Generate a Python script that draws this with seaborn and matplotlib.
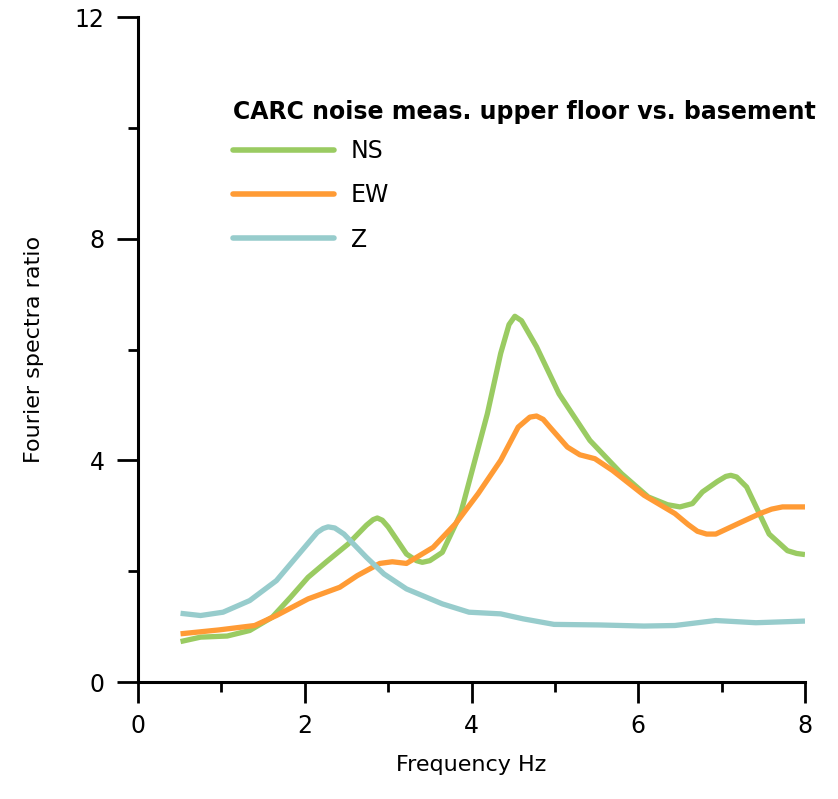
import matplotlib
matplotlib.use("Agg")
import matplotlib.pyplot as plt
from matplotlib.ticker import MultipleLocator
import seaborn as sns
import pandas as pd

# Values
ns_freq = [0.51, 0.75, 1.07, 1.34, 1.61, 1.83, 2.04, 2.26, 2.52, 2.74, 2.82, 2.87, 2.93, 3.0,
           3.22, 3.34, 3.41, 3.5, 3.65, 3.87, 4.03, 4.19, 4.35, 4.45, 4.52, 4.6, 4.78, 5.05,
           5.42, 5.8, 6.12, 6.35, 6.5, 6.65, 6.77, 6.95, 7.05, 7.11, 7.18, 7.3, 7.57, 7.79,
           7.9, 8.0]
ns_ratio = [0.73, 0.81, 0.83, 0.93, 1.17, 1.53, 1.89, 2.17, 2.49, 2.83, 2.93, 2.96, 2.92, 2.8,
            2.31, 2.19, 2.16, 2.19, 2.34, 3.04, 3.94, 4.84, 5.93, 6.45, 6.6, 6.52, 6.05, 5.2,
            4.36, 3.76, 3.34, 3.2, 3.16, 3.22, 3.43, 3.62, 3.71, 3.73, 3.7, 3.52, 2.67, 2.37,
            2.32, 2.3]

ew_freq = [0.51, 0.97, 1.4, 1.66, 2.04, 2.42, 2.63, 2.9, 3.05, 3.22, 3.54, 3.81, 4.08, 4.35,
           4.56, 4.7, 4.78, 4.86, 4.94, 5.15, 5.3, 5.48, 5.69, 6.07, 6.44, 6.6, 6.71, 6.82,
           6.93, 7.2, 7.46, 7.6, 7.73, 8.0]
ew_ratio = [0.87, 0.94, 1.02, 1.2, 1.5, 1.71, 1.92, 2.14, 2.17, 2.14, 2.43, 2.86, 3.4, 4.0,
            4.6, 4.78, 4.8, 4.74, 4.6, 4.24, 4.1, 4.03, 3.82, 3.37, 3.04, 2.84, 2.72, 2.67,
            2.67, 2.86, 3.04, 3.12, 3.16, 3.16]

z_freq = [0.51, 0.75, 1.02, 1.34, 1.66, 1.93, 2.15, 2.22, 2.28, 2.36, 2.47, 2.74, 2.95, 3.22,
          3.65, 3.97, 4.35, 4.62, 4.99, 5.53, 6.07, 6.44, 6.93, 7.41, 8.0]
z_ratio = [1.24, 1.2, 1.26, 1.47, 1.83, 2.31, 2.7, 2.77, 2.8, 2.78, 2.67, 2.25, 1.95, 1.68,
           1.41, 1.26, 1.23, 1.14, 1.04, 1.03, 1.01, 1.02, 1.11, 1.07, 1.1]

components = ["NS", "EW", "Z"]
colors = ["#9ACB62", "#FF9B35", "#97CCCC"]

df = pd.concat([
    pd.DataFrame({"freq": ns_freq, "ratio": ns_ratio, "comp": "NS"}),
    pd.DataFrame({"freq": ew_freq, "ratio": ew_ratio, "comp": "EW"}),
    pd.DataFrame({"freq": z_freq, "ratio": z_ratio, "comp": "Z"}),
])

sns.set_style("ticks", {"axes.edgecolor": "black", "xtick.color": "black",
                        "ytick.color": "black", "text.color": "black",
                        "axes.labelcolor": "black"})
plt.rcParams["font.family"] = ["DejaVu Sans"]

fig = plt.figure(figsize=(8.38, 7.99), dpi=100)
ax = fig.add_axes([0.1647, 0.1464, 0.7959, 0.8323])

sns.lineplot(data=df, x="freq", y="ratio", hue="comp", hue_order=components,
             palette=dict(zip(components, colors)), linewidth=3.8, sort=False,
             estimator=None, ax=ax, legend=False)
for line in ax.get_lines():
    line.set_solid_joinstyle("round")
    line.set_solid_capstyle("butt")

ax.set_xlim(0, 8)
ax.set_ylim(0, 12)
ax.xaxis.set_major_locator(MultipleLocator(2))
ax.xaxis.set_minor_locator(MultipleLocator(1))
ax.yaxis.set_major_locator(MultipleLocator(4))
ax.yaxis.set_minor_locator(MultipleLocator(2))
ax.tick_params(which="major", length=15, width=2, labelsize=17, pad=8, colors="black")
ax.tick_params(which="minor", length=7.5, width=2, colors="black")
ax.tick_params(axis="y", which="major", pad=9)
sns.despine(ax=ax)
for side in ["left", "bottom"]:
    ax.spines[side].set_linewidth(2.2)
    ax.spines[side].set_color("black")

ax.set_xlabel("Frequency Hz", fontsize=16, labelpad=12, color="black")
ax.set_ylabel("Fourier spectra ratio", fontsize=16, labelpad=22, color="black")

handles = [plt.Line2D([], [], color=c, linewidth=4) for c in colors]
leg = ax.legend(handles, components, title="CARC noise meas. upper floor vs. basement",
                loc="upper left", bbox_to_anchor=(0.11, 0.907), frameon=False,
                fontsize=17, handlelength=4.3, handletextpad=0.7, labelspacing=0.85,
                alignment="left", labelcolor="black")
leg.get_title().set_fontsize(17)
leg.get_title().set_fontweight("bold")
leg.get_title().set_color("black")
leg._legend_box.sep = 11

fig.savefig("out.png", dpi=100)
